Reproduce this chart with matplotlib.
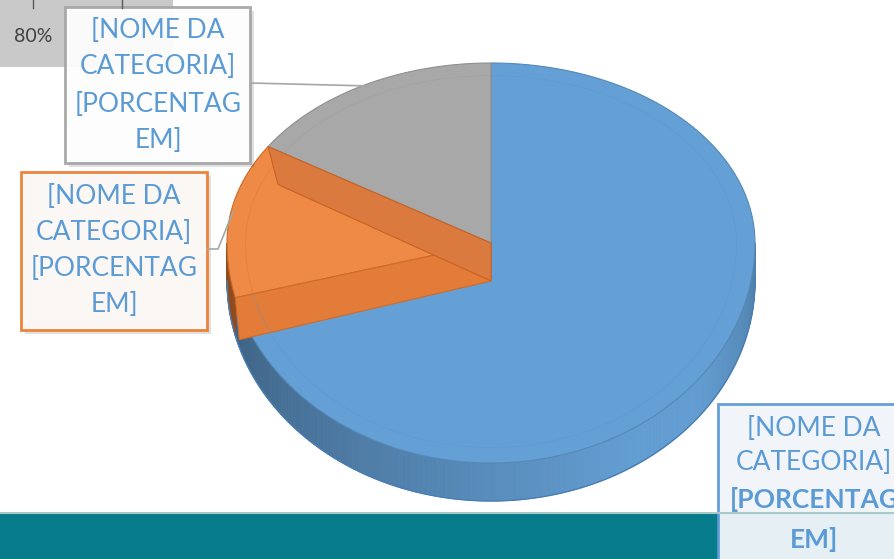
import matplotlib.pyplot as plt
import numpy as np
from matplotlib.patches import Polygon, Rectangle
import matplotlib.colors as mcolors

# data
categories = ['Azul', 'Laranja', 'Cinza']
values = [71, 13, 16]
colors = ['#64A0D6', '#ED7D31', '#A8A8A8']
label_lines = ['[NOME DA', 'CATEGORIA]', '[PORCENTAG', 'EM]']
axis_tick = '80%'

# pseudo 3d geometry (pixel coords)
cx, cy = 491, 243
rx, ry_up, ry_down = 264, 180, 220
depth = 38


def rim(t, dz=0.0):
    t = np.radians(np.asarray(t, dtype=float))
    ry = np.where(np.sin(t) >= 0, ry_up, ry_down)
    return np.column_stack([cx + rx * np.cos(t), cy - ry * np.sin(t) + dz])


def shade(c, f):
    r, g, b = mcolors.to_rgb(c)
    return (min(r * f, 1), min(g * f, 1), min(b * f, 1))


fig = plt.figure(figsize=(8.94, 5.59), dpi=100)
ax = fig.add_axes([0, 0, 1, 1])
ax.set_xlim(0, 894)
ax.set_ylim(559, 0)
ax.axis('off')

# slice angles, start at 12 o'clock, clockwise
ends = 90 - np.cumsum(values) / sum(values) * 360
starts = np.r_[90, ends[:-1]]

# side walls (front half only)
for s, e, c in zip(starts, ends, colors):
    lo, hi = max(e, -180), min(s, 0)
    if lo >= hi:
        continue
    angs = np.linspace(hi, lo, int((hi - lo) * 2) + 2)
    for a0, a1 in zip(angs[:-1], angs[1:]):
        am = (a0 + a1) / 2
        # darker on the left, lighter front-right
        f = 0.60 + 0.38 * np.clip((am + 170) / 110, 0, 1) - 0.2 * np.clip((am + 40) / 40, 0, 1)
        top = rim([a0, a1])
        bot = rim([a1, a0], depth)
        ax.add_patch(Polygon(np.vstack([top, bot]), closed=True,
                             facecolor=shade(c, f), edgecolor=shade(c, f), lw=0.6))
bottom_edge = rim(np.linspace(0, -180, 200), depth)
ax.plot(bottom_edge[:, 0], bottom_edge[:, 1], color='#4A7EB5', lw=1)

# top faces
for s, e, c in zip(starts, ends, colors):
    arc = rim(np.linspace(s, e, 200))
    ax.add_patch(Polygon(np.vstack([[cx, cy], arc]), closed=True,
                         facecolor=c if c != '#ED7D31' else '#EE8A45',
                         edgecolor=shade(c, 0.85), lw=0.8))
    inner = np.column_stack([cx + (arc[:, 0] - cx) * 0.93, cy + (arc[:, 1] - cy) * 0.93])
    ax.plot(inner[:, 0], inner[:, 1], color=shade(c, 0.93), lw=0.6, alpha=0.45)

# orange radial faces
b_back, b_front = starts[1], ends[1]
p = rim([b_back])[0]
ax.add_patch(Polygon([[cx, cy], p, p + [4, depth + 4], [cx, cy + depth]], closed=True,
                     facecolor='#E27C38', edgecolor='#D06A28', lw=0.8))
p = rim([b_front])[0]
ax.add_patch(Polygon([[cx, cy], p, p + [10, depth], [cx, cy + depth]], closed=True,
                     facecolor='#DB7A3F', edgecolor='#C9621F', lw=0.8))

# grey axis fragment top-left
ax.add_patch(Rectangle((0, 0), 173, 67, facecolor='#C9C9C9', edgecolor='none'))
for x in [33, 122]:
    ax.plot([x, x], [0, 8], color='#595959', lw=1)
ax.text(33, 36, axis_tick, ha='center', va='center', fontsize=14, color='#404040',
        family='Lato')

# teal footer
ax.add_patch(Rectangle((0, 513), 894, 46, facecolor='#077C8A', edgecolor='none'))
ax.plot([0, 894], [513, 513], color='#A9C8CC', lw=1.5)

# leader lines
ax.plot([250, 370], [83, 86], color='#A6A6A6', lw=1.2)
ax.plot([207, 218, 233], [249, 249, 212], color='#A6A6A6', lw=1.2)


def label_box(x0, y0, w, h, edge, face, ys, xc, bold_from=99):
    ax.add_patch(Rectangle((x0 + 4, y0 + 4), w, h, facecolor='#000000', alpha=0.12,
                           edgecolor='none'))
    ax.add_patch(Rectangle((x0, y0), w, h, facecolor=face, edgecolor=edge, lw=2,
                           alpha=0.95))
    for i, (ln, y) in enumerate(zip(label_lines, ys)):
        ax.text(xc, y, ln, ha='center', va='center', fontsize=19, color='#5B9BD5',
                family='Lato', fontweight='bold' if i >= bold_from else 'normal')


label_box(65, 7, 185, 156, '#A5A5A5', '#FFFFFF', [31, 67, 104, 141], 158)
label_box(21, 172, 186, 158, '#ED7D31', '#FCF9F7', [196, 232, 268, 305], 114)
label_box(718, 404, 190, 170, '#5B9BD5', '#F3F7FB', [428, 463, 500, 539], 814, bold_from=2)

fig.savefig('out.png', dpi=100)
